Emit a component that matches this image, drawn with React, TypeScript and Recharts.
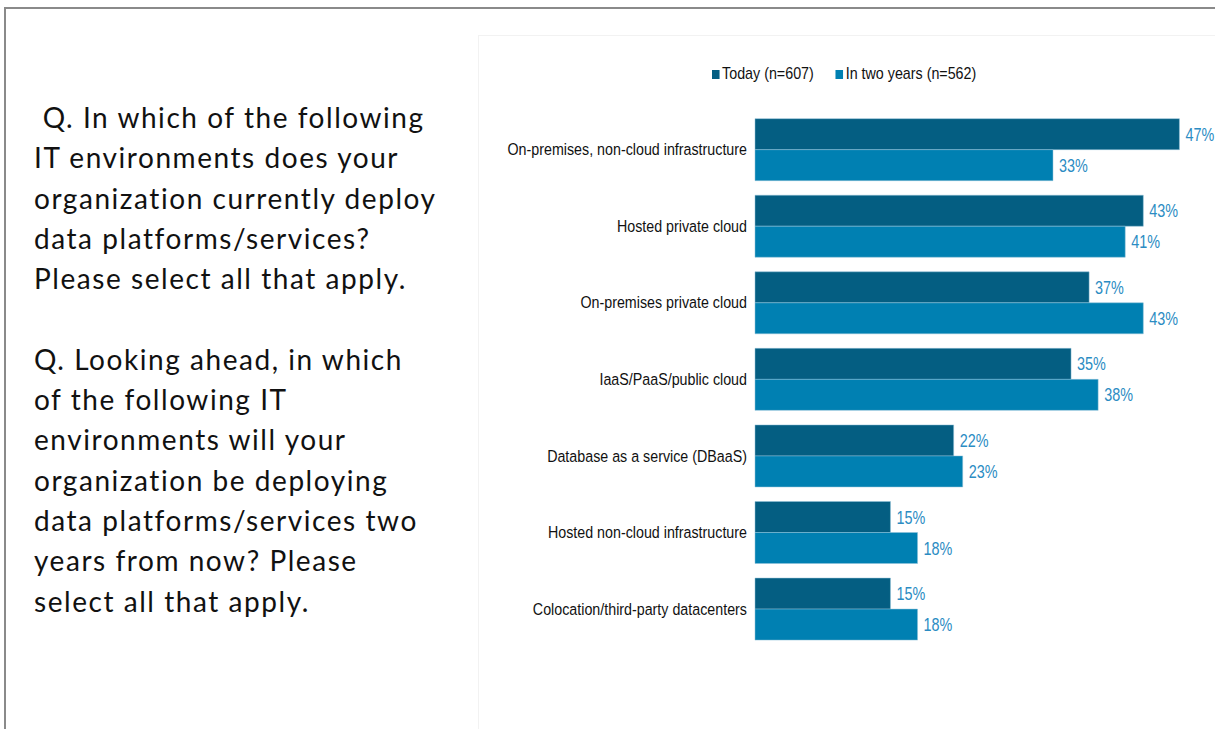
import { Bar, BarChart, LabelList, XAxis, YAxis } from 'recharts';

const categories = [
  'On-premises, non-cloud infrastructure',
  'Hosted private cloud',
  'On-premises private cloud',
  'IaaS/PaaS/public cloud',
  'Database as a service (DBaaS)',
  'Hosted non-cloud infrastructure',
  'Colocation/third-party datacenters',
];
const today = [47, 43, 37, 35, 22, 15, 15];
const inTwoYears = [33, 41, 43, 38, 23, 18, 18];
const seriesNames = ['Today (n=607)', 'In two years (n=562)'];

const questionLines = [
  ' Q. In which of the following',
  'IT environments does your',
  'organization currently deploy',
  'data platforms/services?',
  'Please select all that apply.',
  '',
  'Q. Looking ahead, in which',
  'of the following IT',
  'environments will your',
  'organization be deploying',
  'data platforms/services two',
  'years from now? Please',
  'select all that apply.',
];

const DARK = '#045e82';
const LIGHT = '#0080b2';
const LABEL = '#2b8cc3';
const NARROW = '"Liberation Sans Narrow", "Arial Narrow", "Liberation Sans", Arial, sans-serif';
const SQUEEZE = 0.84;

const chartData = categories.map((name, i) => ({
  name,
  today: today[i],
  future: inTwoYears[i],
}));

// condensed-looking tick: Arial Narrow is not installed, so squeeze Liberation Sans
function CategoryTick(props: any) {
  const { x, y, payload } = props;
  return (
    <text
      transform={`translate(${x},${y}) scale(${SQUEEZE},1)`}
      textAnchor="end"
      dominantBaseline="central"
      fontSize={17}
      fontFamily={NARROW}
      fill="#111"
    >
      {payload.value}
    </text>
  );
}

function ValueLabel(props: any) {
  const { x, y, width, height, value } = props;
  return (
    <text
      transform={`translate(${x + width + 6},${y + height / 2}) scale(0.8,1)`}
      textAnchor="start"
      dominantBaseline="central"
      fontSize={18}
      fontFamily={NARROW}
      fill={LABEL}
    >
      {`${value}%`}
    </text>
  );
}

export default function App() {
  return (
    <div
      style={{
        position: 'absolute',
        left: 0,
        top: 0,
        width: 1215,
        height: 729,
        background: '#fff',
        overflow: 'hidden',
      }}
    >
      {/* slide frame */}
      <div style={{ position: 'absolute', left: 4, top: 7, width: 1211, height: 2, background: '#8a8a8a' }} />
      <div style={{ position: 'absolute', left: 4, top: 7, width: 2, height: 722, background: '#8a8a8a' }} />

      {/* question text */}
      <div
        style={{
          position: 'absolute',
          left: 34,
          top: 97,
          fontFamily: 'Lato, "Open Sans", sans-serif',
          fontSize: 28,
          letterSpacing: '1.55px',
          lineHeight: '40.3px',
          color: '#111',
          whiteSpace: 'pre',
        }}
      >
        {questionLines.map((line, i) => (
          <div key={i} style={{ height: '40.3px' }}>{line}</div>
        ))}
      </div>

      {/* faint chart image frame */}
      <div
        style={{
          position: 'absolute',
          left: 478,
          top: 35,
          width: 740,
          height: 700,
          borderTop: '1px solid #f2f2f2',
          borderLeft: '1px solid #f2f2f2',
        }}
      />

      {/* legend */}
      <div
        style={{
          position: 'absolute',
          left: 712,
          top: 64,
          display: 'flex',
          alignItems: 'center',
          fontFamily: NARROW,
          fontSize: 17,
          color: '#111',
          transform: `scaleX(${SQUEEZE})`,
          transformOrigin: 'left center',
          whiteSpace: 'nowrap',
        }}
      >
        {seriesNames.map((s, i) => (
          <div key={s} style={{ display: 'flex', alignItems: 'center', marginRight: 26 }}>
            <span style={{ display: 'inline-block', width: 9, height: 9, background: i === 0 ? DARK : LIGHT, marginRight: 3 }} />
            {s}
          </div>
        ))}
      </div>

      <div style={{ position: 'absolute', left: 478, top: 0 }}>
        <BarChart
          width={737}
          height={660}
          data={chartData}
          layout="vertical"
          margin={{ top: 111, right: 8.5, bottom: 13, left: 0 }}
          barCategoryGap="10%"
          barGap={0}
        >
          <XAxis type="number" domain={[0, 50]} hide />
          <YAxis
            type="category"
            dataKey="name"
            width={277}
            axisLine={false}
            tickLine={false}
            interval={0}
            tick={<CategoryTick />}
          />
          <Bar dataKey="today" name={seriesNames[0]} fill={DARK} stroke="#8fc2da" strokeOpacity={0.5} strokeWidth={1} isAnimationActive={false}>
            <LabelList dataKey="today" content={<ValueLabel />} />
          </Bar>
          <Bar dataKey="future" name={seriesNames[1]} fill={LIGHT} stroke="#8fc2da" strokeOpacity={0.5} strokeWidth={1} isAnimationActive={false}>
            <LabelList dataKey="future" content={<ValueLabel />} />
          </Bar>
        </BarChart>
      </div>
    </div>
  );
}
